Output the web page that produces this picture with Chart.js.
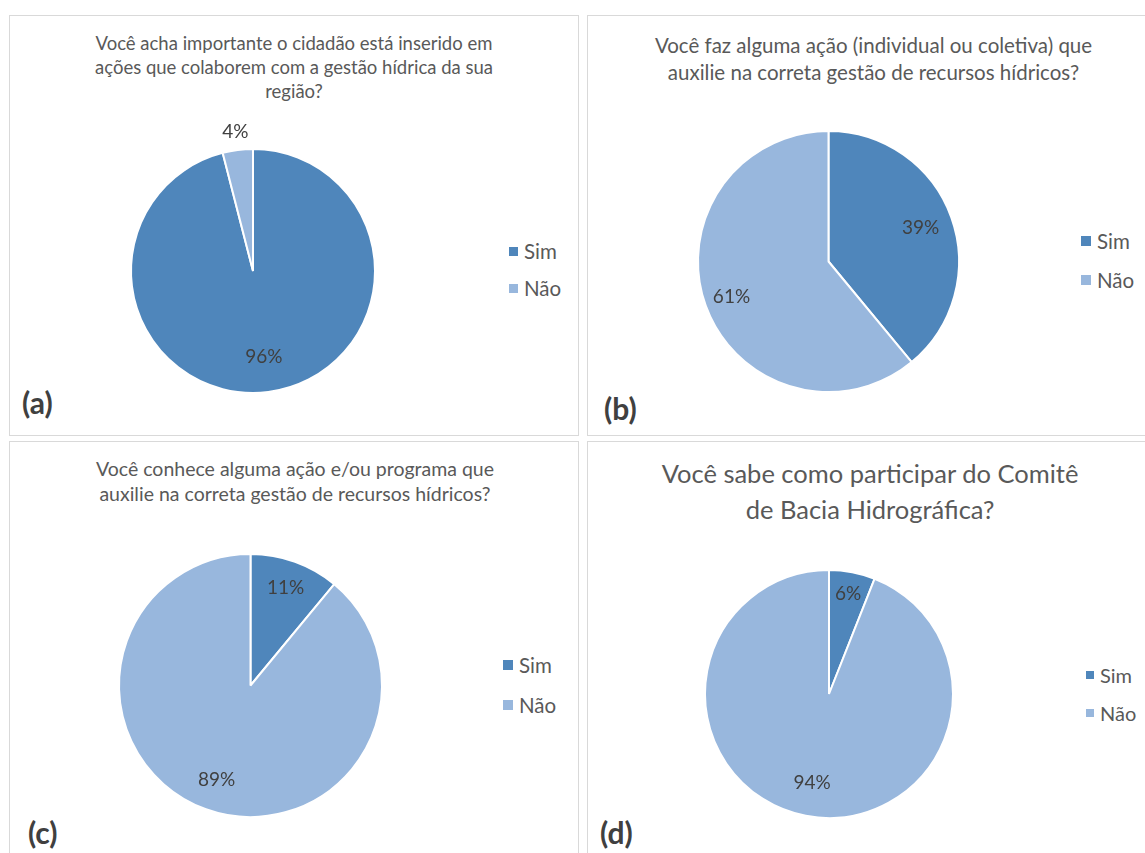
<!DOCTYPE html>
<html lang="pt">
<head>
<meta charset="UTF-8">
<title>Gestão hídrica - questionário</title>
<script src="https://cdn.jsdelivr.net/npm/chart.js"></script>
<style>
  html, body { margin: 0; padding: 0; background: #fff; }
  body { width: 1145px; height: 853px; position: relative; overflow: hidden;
         font-family: Lato, "Open Sans", sans-serif; color: #595959; }
  .panel { position: absolute; border: 1px solid #d9d9d9; box-sizing: border-box; }
  .line { position: absolute; white-space: nowrap; transform: translateX(-50%); text-align: center; }
  .letter { position: absolute; font-weight: bold; color: #404040; font-size: 30px; line-height: 34px; }
  .leg { position: absolute; white-space: nowrap; display: flex; align-items: center; }
  .leg i { display: inline-block; margin-right: 6px; }
  canvas { position: absolute; }
</style>
</head>
<body>
<script>
// data
const categories = ["Sim", "Não"];
const simPct = [96, 39, 11, 6];
const naoPct = [4, 61, 89, 94];
const letters = ["(a)", "(b)", "(c)", "(d)"];
const titles = [
  ["Você acha importante o cidadão está inserido em", "ações que colaborem com a gestão hídrica da sua", "região?"],
  ["Você faz alguma ação (individual ou coletiva) que", "auxilie na correta gestão de recursos hídricos?"],
  ["Você conhece alguma ação e/ou programa que", "auxilie na correta gestão de recursos hídricos?"],
  ["Você sabe como participar do Comitê", "de Bacia Hidrográfica?"]
];

const colors = ["#4f86bb", "#98b7dd"];

// layout of each panel (page pixels)
const panels = [
  { box: [9, 15, 570, 421], pie: [252.5, 270.5, 122], lab: [0.71, 1.15],
    title: { x: 294, y: 43, gap: 24, size: 18.5 }, leg: { x: 509, y: 251, gap: 37, size: 20.5, box: 9 },
    letter: [22, 402] },
  { box: [587, 15, 600, 421], pie: [828.5, 261.5, 130.5], lab: [0.75, 0.79],
    title: { x: 873.5, y: 45, gap: 27, size: 20.5 }, leg: { x: 1081, y: 241, gap: 39, size: 20.5, box: 10 },
    letter: [604, 408] },
  { box: [9, 441, 570, 430], pie: [250.5, 685.5, 131.5], lab: [0.79, 0.76],
    title: { x: 295, y: 468, gap: 25, size: 19.5 }, leg: { x: 503, y: 665, gap: 40, size: 20.5, box: 10 },
    letter: [28, 832] },
  { box: [587, 441, 600, 430], pie: [829, 694, 124], lab: [0.82, 0.73],
    title: { x: 870, y: 473, gap: 36, size: 25.5 }, leg: { x: 1086, y: 675, gap: 38, size: 20, box: 8 },
    letter: [600, 832] }
];

const pieLabels = {
  id: "pieLabels",
  afterDatasetsDraw(chart, args, opts) {
    const ctx = chart.ctx;
    const meta = chart.getDatasetMeta(0);
    const values = chart.data.datasets[0].data;
    ctx.save();
    ctx.font = "19px Lato, 'Open Sans', sans-serif";
    ctx.fillStyle = "#404040";
    ctx.textAlign = "center";
    ctx.textBaseline = "middle";
    meta.data.forEach((arc, i) => {
      const p = arc.getProps(["x", "y", "startAngle", "endAngle", "outerRadius"], true);
      const mid = (p.startAngle + p.endAngle) / 2;
      const d = p.outerRadius * opts.dist[i];
      ctx.fillText(values[i] + "%", p.x + Math.cos(mid) * d, p.y + Math.sin(mid) * d);
    });
    ctx.restore();
  }
};

function add(tag, cls, css, text) {
  const el = document.createElement(tag);
  if (cls) el.className = cls;
  Object.assign(el.style, css);
  if (text) el.textContent = text;
  document.body.appendChild(el);
  return el;
}

panels.forEach((pn, k) => {
  const [bx, by, bw, bh] = pn.box;
  add("div", "panel", { left: bx + "px", top: by + "px", width: bw + "px", height: bh + "px" });

  // title lines
  titles[k].forEach((t, j) => {
    const cy = pn.title.y + j * pn.title.gap;
    add("div", "line", {
      left: pn.title.x + "px", top: (cy - pn.title.gap / 2) + "px",
      height: pn.title.gap + "px", lineHeight: pn.title.gap + "px", fontSize: pn.title.size + "px"
    }, t);
  });

  // legend
  categories.forEach((c, j) => {
    const cy = pn.leg.y + j * pn.leg.gap;
    const row = add("div", "leg", {
      left: pn.leg.x + "px", top: (cy - 12) + "px", height: "24px", fontSize: pn.leg.size + "px"
    });
    const sw = document.createElement("i");
    sw.style.width = pn.leg.box + "px";
    sw.style.height = pn.leg.box + "px";
    sw.style.background = colors[j];
    row.appendChild(sw);
    row.appendChild(document.createTextNode(c));
  });

  add("div", "letter", { left: pn.letter[0] + "px", top: (pn.letter[1] - 17) + "px" }, letters[k]);

  // pie canvas
  const [cx, cy, r] = pn.pie;
  const m = 40;
  const size = Math.round(2 * r + 2 + 2 * m);
  const cv = add("canvas", null, { left: (cx - size / 2) + "px", top: (cy - size / 2) + "px" });
  cv.width = size;
  cv.height = size;

  new Chart(cv.getContext("2d"), {
    type: "pie",
    data: {
      labels: categories,
      datasets: [{
        data: [simPct[k], naoPct[k]],
        backgroundColor: colors,
        borderColor: "#ffffff",
        borderWidth: 2
      }]
    },
    options: {
      responsive: false,
      animation: false,
      layout: { padding: m },
      plugins: {
        legend: { display: false },
        tooltip: { enabled: false },
        pieLabels: { dist: pn.lab }
      }
    },
    plugins: [pieLabels]
  });
});
</script>
</body>
</html>
